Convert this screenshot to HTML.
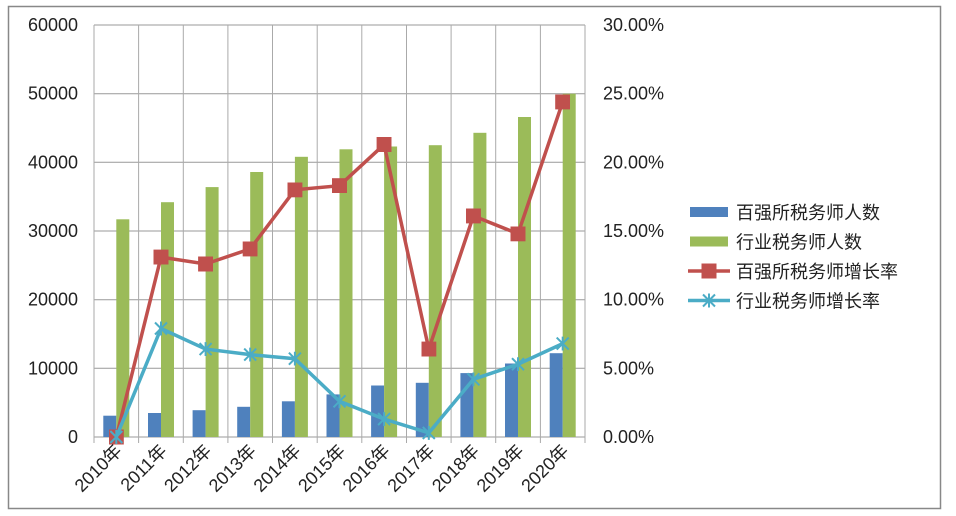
<!DOCTYPE html>
<html><head><meta charset="utf-8"><style>body{margin:0;background:#fff}svg{display:block}text{font-family:"Liberation Sans","Noto Sans CJK SC",sans-serif;fill:#222;font-size:18px}</style></head><body>
<svg width="956" height="516" viewBox="0 0 956 516" xmlns="http://www.w3.org/2000/svg">
<defs>
<marker id="sq" viewBox="0 0 15 15" refX="7.5" refY="7.5" markerWidth="15" markerHeight="15" markerUnits="userSpaceOnUse"><rect width="15" height="15" fill="#c0504d"/></marker>
<marker id="st" viewBox="0 0 14 14" refX="7" refY="7" markerWidth="14" markerHeight="14" markerUnits="userSpaceOnUse"><path d="M1 1L13 13M1 13L13 1M7 0V14" stroke="#4bacc6" stroke-width="2" fill="none"/></marker>
</defs>
<rect x="8.5" y="6.5" width="932" height="502" fill="none" stroke="#888" stroke-width="1.5"/>
<g stroke="#999" stroke-width="1">
<line x1="94" x2="585" y1="437" y2="437"/><line x1="94" x2="585" y1="368.3" y2="368.3"/><line x1="94" x2="585" y1="299.7" y2="299.7"/><line x1="94" x2="585" y1="231" y2="231"/><line x1="94" x2="585" y1="162.3" y2="162.3"/><line x1="94" x2="585" y1="93.7" y2="93.7"/><line x1="94" x2="585" y1="25" y2="25"/>
</g>
<g stroke="#aaa" stroke-width="1">
<line x1="94" x2="94" y1="25" y2="443"/><line x1="138.6" x2="138.6" y1="25" y2="443"/><line x1="183.3" x2="183.3" y1="25" y2="443"/><line x1="227.9" x2="227.9" y1="25" y2="443"/><line x1="272.5" x2="272.5" y1="25" y2="443"/><line x1="317.2" x2="317.2" y1="25" y2="443"/><line x1="361.8" x2="361.8" y1="25" y2="443"/><line x1="406.5" x2="406.5" y1="25" y2="443"/><line x1="451.1" x2="451.1" y1="25" y2="443"/><line x1="495.7" x2="495.7" y1="25" y2="443"/><line x1="540.4" x2="540.4" y1="25" y2="443"/><line x1="585" x2="585" y1="25" y2="443"/>
</g>
<g text-anchor="end">
<text x="78" y="443">0</text><text x="78" y="374.3">10000</text><text x="78" y="305.7">20000</text><text x="78" y="237">30000</text><text x="78" y="168.3">40000</text><text x="78" y="99.7">50000</text><text x="78" y="31">60000</text>
</g>
<g>
<text x="603" y="443">0.00%</text><text x="603" y="374.3">5.00%</text><text x="603" y="305.7">10.00%</text><text x="603" y="237">15.00%</text><text x="603" y="168.3">20.00%</text><text x="603" y="99.7">25.00%</text><text x="603" y="31">30.00%</text>
</g>
<g fill="#4f81bd">
<rect x="103.3" y="415.7" width="13" height="21.3"/><rect x="148" y="413" width="13" height="24"/><rect x="192.6" y="410.2" width="13" height="26.8"/><rect x="237.2" y="406.8" width="13" height="30.2"/><rect x="281.9" y="401.3" width="13" height="35.7"/><rect x="326.5" y="394.4" width="13" height="42.6"/><rect x="371.1" y="385.5" width="13" height="51.5"/><rect x="415.8" y="382.8" width="13" height="54.2"/><rect x="460.4" y="373.1" width="13" height="63.9"/><rect x="505" y="363.5" width="13" height="73.5"/><rect x="549.7" y="353.2" width="13" height="83.8"/>
</g>
<g fill="#9bbb59">
<rect x="116.3" y="219.3" width="13" height="217.7"/><rect x="161" y="202.2" width="13" height="234.8"/><rect x="205.6" y="187.1" width="13" height="249.9"/><rect x="250.2" y="172" width="13" height="265"/><rect x="294.9" y="156.8" width="13" height="280.2"/><rect x="339.5" y="149.3" width="13" height="287.7"/><rect x="384.1" y="146.5" width="13" height="290.5"/><rect x="428.8" y="145.2" width="13" height="291.8"/><rect x="473.4" y="132.8" width="13" height="304.2"/><rect x="518" y="117" width="13" height="320"/><rect x="562.7" y="93.7" width="13" height="343.3"/>
</g>
<polyline points="116.3,437 161,257.1 205.6,264 250.2,248.9 294.9,189.8 339.5,185.7 384.1,144.5 428.8,349.1 473.4,215.9 518,233.8 562.7,101.9" fill="none" stroke="#c0504d" stroke-width="3.5" marker-start="url(#sq)" marker-mid="url(#sq)" marker-end="url(#sq)"/>
<polyline points="116.3,437 161,328.5 205.6,349.1 250.2,354.6 294.9,358.7 339.5,401.3 384.1,419.1 428.8,432.9 473.4,379.3 518,364.2 562.7,343.6" fill="none" stroke="#4bacc6" stroke-width="3.5" marker-start="url(#st)" marker-mid="url(#st)" marker-end="url(#st)"/>
<g text-anchor="end">
<text transform="translate(123,452) rotate(-45)">2010年</text><text transform="translate(168,452) rotate(-45)">2011年</text><text transform="translate(212.6,452) rotate(-45)">2012年</text><text transform="translate(257.2,452) rotate(-45)">2013年</text><text transform="translate(301.9,452) rotate(-45)">2014年</text><text transform="translate(346.5,452) rotate(-45)">2015年</text><text transform="translate(391.1,452) rotate(-45)">2016年</text><text transform="translate(435.8,452) rotate(-45)">2017年</text><text transform="translate(480.4,452) rotate(-45)">2018年</text><text transform="translate(525,452) rotate(-45)">2019年</text><text transform="translate(569.7,452) rotate(-45)">2020年</text>
</g>
<g style="font-size:20px">
<rect x="690" y="207" width="38" height="10" fill="#4f81bd"/><text x="736" y="219">百强所税务师人数</text>
<rect x="690" y="236.5" width="38" height="10" fill="#9bbb59"/><text x="736" y="248.5">行业税务师人数</text>
<line x1="688" x2="730" y1="271" y2="271" stroke="#c0504d" stroke-width="3.5"/><rect x="701.5" y="263.5" width="15" height="15" fill="#c0504d"/><text x="736" y="278">百强所税务师增长率</text>
<line x1="688" x2="730" y1="300.5" y2="300.5" stroke="#4bacc6" stroke-width="3.5"/><path d="M703 294.5L715 306.5M703 306.5L715 294.5M709 293.5V307.5" stroke="#4bacc6" stroke-width="2"/><text x="736" y="307.5">行业税务师增长率</text>
</g>
</svg>
</body></html>
